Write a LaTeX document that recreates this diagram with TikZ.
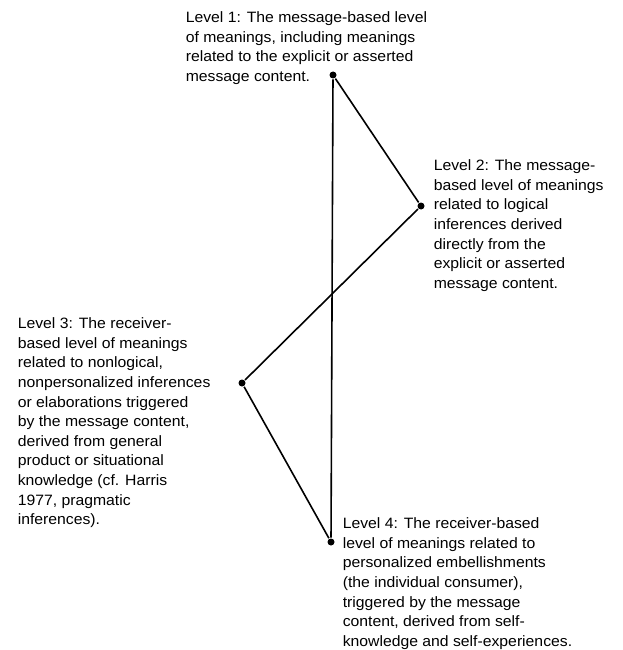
\documentclass[tikz,border=0pt]{standalone}
\usepackage{fontspec}
\setmainfont{Liberation Sans}[FakeStretch=1.05]

\begin{document}
\begin{tikzpicture}[x=1pt, y=-1pt, line width=1.6pt,
    lvl/.style={circle, fill, inner sep=0pt, minimum size=7pt},
    desc/.style={anchor=north west, align=left, inner sep=0pt,
      font=\fontsize{15}{19.6}\selectfont}]
    \useasboundingbox (0,0) rectangle (622,650);

    \node[lvl] (l1) at (333,75) {};
    \node[lvl] (l2) at (421,206) {};
    \node[lvl] (l3) at (242,383) {};
    \node[lvl] (l4) at (331,542) {};

    \node[desc] (t1) at (185,11) {Level 1: The message-based level\\
      of meanings, including meanings\\
      related to the explicit or asserted\\
      message content.};
    \node[desc] (t2) at (433,159) {Level 2: The message-\\
      based level of meanings\\
      related to logical\\
      inferences derived\\
      directly from the\\
      explicit or asserted\\
      message content.};
    \node[desc] (t3) at (17,317) {Level 3: The receiver-\\
      based level of meanings\\
      related to nonlogical,\\
      nonpersonalized inferences\\
      or elaborations triggered\\
      by the message content,\\
      derived from general\\
      product or situational\\
      knowledge (cf. Harris\\
      1977, pragmatic\\
      inferences).};
    \node[desc] (t4) at (342,517) {Level 4: The receiver-based\\
      level of meanings related to\\
      personalized embellishments\\
      (the individual consumer),\\
      triggered by the message\\
      content, derived from self-\\
      knowledge and self-experiences.};

    \draw (l1) -- (l2) -- (l3) -- (l4);
    \draw (l1) -- (l4);
\end{tikzpicture}
\end{document}
